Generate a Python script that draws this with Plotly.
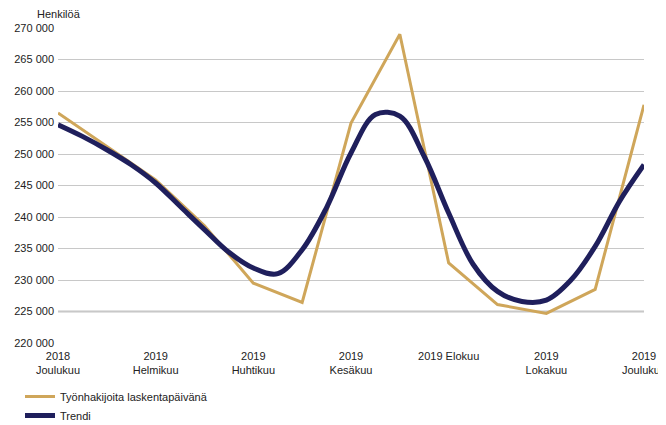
import plotly.graph_objects as go

# Monthly observations, Dec 2018 .. Dec 2019 (index 0..12)
months = list(range(13))
job_seekers = [256500, 251200, 245900, 238600, 229500, 226450, 254900,
               269000, 232700, 226100, 224700, 228500, 257800]

# Trend read at half-month steps
trend_x = [i / 2 for i in range(25)]
trend = [254650, 252800, 250680, 248300, 245400, 241700, 238000, 234400,
         231900, 231000, 234800, 241500, 250160, 256270, 256000, 249600,
         240630, 232500, 228190, 226600, 226800, 229950, 235330, 242500,
         248300]

tick_pos = [0, 2, 4, 6, 8, 10, 12]
tick_text = ["2018<br>Joulukuu", "2019<br>Helmikuu", "2019<br>Huhtikuu",
             "2019<br>Kesäkuu", "2019 Elokuu", "2019<br>Lokakuu",
             "2019<br>Joulukuu"]
y_ticks = list(range(220000, 270001, 5000))
y_text = [f"{v // 1000} 000" for v in y_ticks]
base_line = 225000

GOLD = "#CFA65A"
NAVY = "#1F1F5C"
FONT = "Liberation Sans, Arial, sans-serif"

fig = go.Figure()
fig.add_trace(go.Scatter(x=months, y=job_seekers, mode="lines",
                         name="Työnhakijoita laskentapäivänä",
                         line=dict(color=GOLD, width=3)))
fig.add_trace(go.Scatter(x=trend_x, y=trend, mode="lines", name="Trendi",
                         line=dict(color=NAVY, width=5, shape="spline",
                                   smoothing=1.0)))

fig.add_shape(type="line", xref="paper", x0=0, x1=1, yref="y",
              y0=base_line, y1=base_line,
              line=dict(color="#c4c4c4", width=2), layer="below")

fig.update_layout(
    width=666, height=425,
    margin=dict(l=50, r=30, t=20, b=90, autoexpand=False),
    paper_bgcolor="white", plot_bgcolor="white",
    font=dict(family=FONT, size=11, color="#222222"),
    showlegend=True,
    legend=dict(x=12 / 666, y=1 - 374 / 425, xref="container",
                yref="container", xanchor="left", yanchor="top",
                bgcolor="rgba(0,0,0,0)", font=dict(size=11),
                tracegroupgap=0, itemwidth=30),
    xaxis=dict(range=[0, 12], tickmode="array", tickvals=tick_pos,
               ticktext=tick_text, showgrid=False, zeroline=False,
               showline=False, ticks="", tickfont=dict(size=11),
               automargin=False, ticklabeloverflow="allow",
               ticklabelstandoff=5),
    yaxis=dict(range=[220000, 270000], tickmode="array", tickvals=y_ticks,
               ticktext=y_text, showgrid=True, gridcolor="#c8c8c8",
               gridwidth=1, zeroline=False, showline=False, ticks="",
               ticklabelstandoff=3, tickfont=dict(size=11),
               automargin=False),
    annotations=[dict(text="Henkilöä", xref="paper", yref="paper",
                      x=0.002, y=1.043, xanchor="center", yanchor="middle",
                      showarrow=False, font=dict(size=11))],
)

fig.write_html("out.html")
